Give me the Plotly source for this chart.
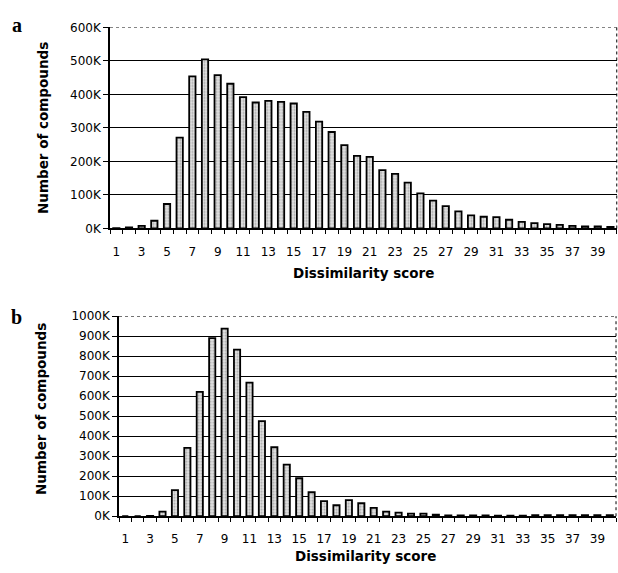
import plotly.graph_objects as go

# Dissimilarity score categories 1..40
scores = list(range(1, 41))

# Panel a: number of compounds per dissimilarity score
counts_a = [1000, 3000, 8000, 23000, 73000, 271000, 454000, 505000, 458000, 432000,
            392000, 376000, 381000, 378000, 373000, 348000, 319000, 288000, 249000, 217000,
            214000, 174000, 163000, 137000, 105000, 83000, 67000, 51000, 39000, 35000,
            34000, 26000, 20000, 16000, 13000, 11000, 8000, 6000, 6000, 5000]

# Panel b: number of compounds per dissimilarity score
counts_b = [0, 0, 2000, 23000, 131000, 342000, 622000, 891000, 938000, 833000,
            668000, 476000, 345000, 258000, 190000, 120000, 76000, 55000, 81000, 65000,
            42000, 23000, 18000, 13000, 13000, 8000, 4000, 4000, 4000, 4000,
            3000, 3000, 3000, 5000, 5000, 5000, 5000, 5000, 5000, 5000]

ytick_a = [0, 100000, 200000, 300000, 400000, 500000, 600000]
ytick_b = [i * 100000 for i in range(11)]
xtick_labels = [str(s) for s in scores if s % 2 == 1]

FONT = "DejaVu Sans, Verdana, sans-serif"

fig = go.Figure()

bar_style = dict(
    color="#d8d8d8",
    line=dict(color="black", width=1.8),
    pattern=dict(shape=".", fgcolor="#707070", bgcolor="#e4e4e4", size=3, solidity=0.4),
)

fig.add_trace(go.Bar(x=scores, y=counts_a, marker=bar_style, width=0.5,
                     xaxis="x", yaxis="y", showlegend=False))
fig.add_trace(go.Bar(x=scores, y=counts_b, marker=bar_style, width=0.5,
                     xaxis="x2", yaxis="y2", showlegend=False))

def xaxis_cfg(anchor, domain):
    return dict(
        domain=domain, anchor=anchor, range=[0.5, 40.5],
        tickvals=[s for s in scores if s % 2 == 1], ticktext=xtick_labels,
        ticks="", showgrid=False, zeroline=False, ticklabelstandoff=11,
        showline=True, linecolor="black", linewidth=1.5,
        tickfont=dict(family=FONT, size=12, color="black"),
        minor=dict(tickvals=[s + 0.5 for s in range(0, 41)], ticks="outside",
                   ticklen=4, tickcolor="black", tickwidth=1, showgrid=False),
        fixedrange=True,
    )

def yaxis_cfg(anchor, domain, vals, top):
    return dict(
        domain=domain, anchor=anchor, range=[0, top],
        tickvals=vals, ticktext=[f"{v // 1000}K" for v in vals],
        ticks="outside", ticklen=5, tickcolor="black",
        showgrid=True, gridcolor="black", gridwidth=1,
        zeroline=False, showline=True, linecolor="black", linewidth=1.5,
        tickfont=dict(family=FONT, size=12, color="black"),
        fixedrange=True,
    )

fig.update_layout(
    width=618, height=573,
    margin=dict(l=0, r=0, t=0, b=0),
    paper_bgcolor="white", plot_bgcolor="white",
    bargap=0.5,
    xaxis=xaxis_cfg("y", [0.178, 0.998]),
    yaxis=yaxis_cfg("x", [0.6038, 0.9634], ytick_a, 600000),
    xaxis2=xaxis_cfg("y2", [0.1926, 0.9968]),
    yaxis2=yaxis_cfg("x2", [0.0890, 0.4468], ytick_b, 1000000),
)

# dotted frame on top and right of each plot area
for xa, ya, top in (("x", "y", 600000), ("x2", "y2", 1000000)):
    fig.add_shape(type="line", xref=f"{xa} domain", yref=ya, x0=0, x1=1, y0=top, y1=top,
                  line=dict(color="black", width=1, dash="dot"))
    fig.add_shape(type="line", xref=f"{xa} domain", yref=f"{ya} domain", x0=1, x1=1, y0=0, y1=1,
                  line=dict(color="black", width=1, dash="dot"))

title_font = dict(family=FONT, size=13.5, color="black")

annotations = [
    dict(text="<b>Dissimilarity score</b>", x=363 / 618, y=1 - 273 / 573),
    dict(text="<b>Dissimilarity score</b>", x=365 / 618, y=1 - 563 / 573),
    dict(text="<b>Number of compounds</b>", x=43 / 618, y=1 - 124 / 573, textangle=-90),
    dict(text="<b>Number of compounds</b>", x=41 / 618, y=1 - 412 / 573, textangle=-90),
]
for a in annotations:
    fig.add_annotation(xref="paper", yref="paper", showarrow=False,
                       xanchor="center", yanchor="middle", font=title_font, **a)

for letter, x, y in (("a", 17, 18), ("b", 16, 318)):
    fig.add_annotation(text=f"<b>{letter}</b>", xref="paper", yref="paper",
                       x=x / 618, y=1 - y / 573, showarrow=False,
                       xanchor="center", yanchor="middle",
                       font=dict(family="Liberation Serif, Times New Roman, serif", size=20, color="black"))

fig.write_html("out.html")
